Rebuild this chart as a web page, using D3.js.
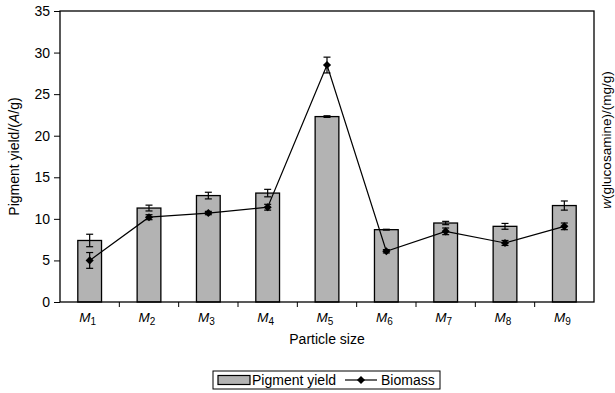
<!DOCTYPE html>
<html>
<head>
<meta charset="utf-8">
<script src="https://cdn.jsdelivr.net/npm/d3@7"></script>
<style>
  body { margin: 0; background: #fff; }
  svg { display: block; font-family: "Liberation Sans", Arial, sans-serif; }
</style>
</head>
<body>
<svg id="chart" width="615" height="393"></svg>
<script>
// data
const categories = ['1', '2', '3', '4', '5', '6', '7', '8', '9']
const pigment = [7.4, 11.3, 12.8, 13.1, 22.3, 8.7, 9.5, 9.1, 11.6]
const pigmentErr = [0.75, 0.35, 0.4, 0.45, 0.1, 0.05, 0.2, 0.35, 0.55]
const biomass = [5.0, 10.2, 10.7, 11.4, 28.5, 6.1, 8.5, 7.1, 9.1]
const biomassErr = [0.95, 0.3, 0.2, 0.35, 0.95, 0.2, 0.4, 0.3, 0.4]
const yTicks = [0, 5, 10, 15, 20, 25, 30, 35]

const margin = {left: 60, right: 21, top: 11, bottom: 91}
const svg = d3.select('#chart')
const W = +svg.attr('width'), H = +svg.attr('height')
const x0 = margin.left, x1 = W - margin.right
const y0 = H - margin.bottom, y1 = margin.top

const x = d3.scaleBand().domain(categories).range([x0, x1]).paddingInner(0.6).paddingOuter(0.3)
const y = d3.scaleLinear().domain([0, 35]).range([y0, y1])
const cx = d => x(d) + x.bandwidth() / 2

const rows = categories.map((c, i) => ({c, p: pigment[i], pe: pigmentErr[i], b: biomass[i], be: biomassErr[i]}))

// bars
svg.append('g').selectAll('rect')
    .data(rows)
    .enter()
        .append('rect')
        .attr('x', d => x(d.c))
        .attr('y', d => y(d.p))
        .attr('width', x.bandwidth())
        .attr('height', d => y(0) - y(d.p))
        .attr('fill', '#b3b3b3')
        .attr('stroke', '#000')
        .attr('stroke-width', 1.3)

// error bars
function errBars(get, getErr) {
    const g = svg.append('g').attr('stroke', '#000').attr('stroke-width', 1.2)
    rows.forEach(d => {
        const lo = y(get(d) - getErr(d)), hi = y(get(d) + getErr(d)), xc = cx(d.c)
        g.append('line').attr('x1', xc).attr('x2', xc).attr('y1', lo).attr('y2', hi)
        g.append('line').attr('x1', xc - 3.5).attr('x2', xc + 3.5).attr('y1', lo).attr('y2', lo)
        g.append('line').attr('x1', xc - 3.5).attr('x2', xc + 3.5).attr('y1', hi).attr('y2', hi)
    })
}
errBars(d => d.p, d => d.pe)

// biomass line
const line = d3.line().x(d => cx(d.c)).y(d => y(d.b))
svg.append('path')
    .datum(rows)
    .attr('d', line)
    .attr('fill', 'none')
    .attr('stroke', '#000')
    .attr('stroke-width', 1.2)

errBars(d => d.b, d => d.be)

const diamond = d3.symbol().type(d3.symbolDiamond2).size(42)
svg.append('g').selectAll('path')
    .data(rows)
    .enter()
        .append('path')
        .attr('d', diamond)
        .attr('transform', d => `translate(${cx(d.c)},${y(d.b)})`)
        .attr('fill', '#000')

// frame
svg.append('rect')
    .attr('x', x0).attr('y', y1)
    .attr('width', x1 - x0).attr('height', y0 - y1)
    .attr('fill', 'none').attr('stroke', '#000').attr('stroke-width', 1.3)

// y axis
const yAxis = svg.append('g').attr('transform', `translate(${x0},0)`)
    .call(d3.axisLeft(y).tickValues(yTicks).tickSize(6).tickPadding(4))
yAxis.select('.domain').remove()
yAxis.selectAll('line').attr('stroke', '#000')
yAxis.selectAll('text').attr('font-size', 14).attr('fill', '#000')
    .attr('font-family', '"Liberation Sans", Arial, sans-serif')

// x ticks between categories
const step = x.step()
svg.append('g').selectAll('line')
    .data(categories.slice(1))
    .enter()
        .append('line')
        .attr('x1', d => x(d) - (step - x.bandwidth()) / 2)
        .attr('x2', d => x(d) - (step - x.bandwidth()) / 2)
        .attr('y1', y0).attr('y2', y0 + 5)
        .attr('stroke', '#000')

// x labels M_i
const xl = svg.append('g').selectAll('text')
    .data(categories)
    .enter()
        .append('text')
        .attr('x', d => cx(d) - 2)
        .attr('y', y0 + 20)
        .attr('text-anchor', 'middle')
        .attr('font-size', 13.5)
xl.append('tspan').attr('font-style', 'italic').text('M')
xl.append('tspan').attr('font-size', 10).attr('dy', 3).text(d => d)

svg.append('text')
    .attr('x', (x0 + x1) / 2).attr('y', y0 + 42)
    .attr('text-anchor', 'middle').attr('font-size', 14)
    .text('Particle size')

// y title
const yt = svg.append('text')
    .attr('transform', `translate(19,${(y0 + y1) / 2}) rotate(-90)`)
    .attr('text-anchor', 'middle').attr('font-size', 14)
yt.append('tspan').text('Pigment yield/(')
yt.append('tspan').attr('font-style', 'italic').text('A')
yt.append('tspan').text('/g)')

// right title, sits at the very edge as in the source
const rt = svg.append('text')
    .attr('transform', `translate(611,140) rotate(-90)`)
    .attr('text-anchor', 'middle').attr('font-size', 13.5)
rt.append('tspan').attr('font-style', 'italic').text('w')
rt.append('tspan').text('(glucosamine)/(mg/g)')

// legend
const lg = svg.append('g')
lg.append('rect').attr('x', 213).attr('y', 371).attr('width', 227).attr('height', 18)
    .attr('fill', '#fff').attr('stroke', '#000')
lg.append('rect').attr('x', 218).attr('y', 375.5).attr('width', 32).attr('height', 9)
    .attr('fill', '#b3b3b3').attr('stroke', '#000').attr('stroke-width', 1.2)
lg.append('text').attr('x', 252).attr('y', 385).attr('font-size', 14).text('Pigment yield')
lg.append('line').attr('x1', 345).attr('x2', 377).attr('y1', 380).attr('y2', 380)
    .attr('stroke', '#000').attr('stroke-width', 1.2)
lg.append('path').attr('d', diamond).attr('transform', 'translate(361,380)')
lg.append('text').attr('x', 381).attr('y', 385).attr('font-size', 14).text('Biomass')
</script>
</body>
</html>
